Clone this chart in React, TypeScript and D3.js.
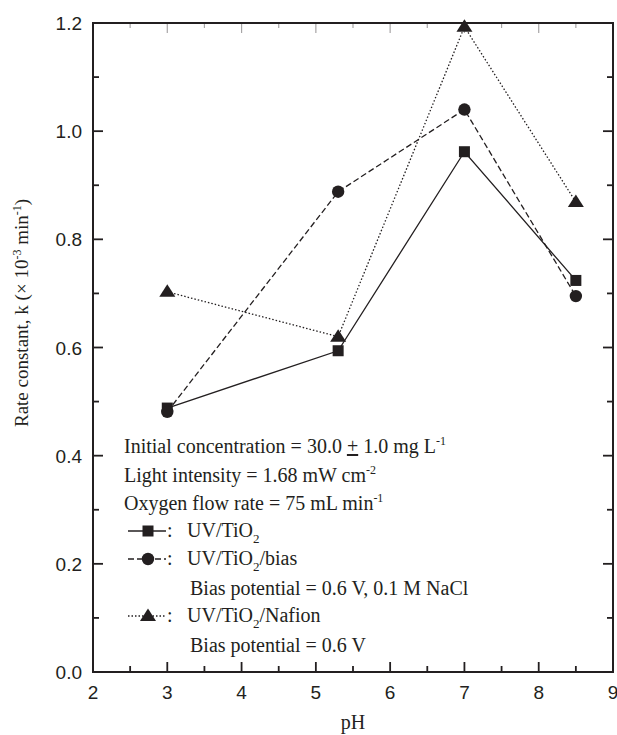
import React from "react";
import * as d3 from "d3";

const phValues = [3, 5.3, 7, 8.5];
const uvTiO2 = [0.488, 0.594, 0.962, 0.724];
const uvTiO2Bias = [0.481, 0.888, 1.04, 0.695];
const uvTiO2Nafion = [0.703, 0.62, 1.193, 0.869];
const xTicks = [2, 3, 4, 5, 6, 7, 8, 9];
const yTicks = [0.0, 0.2, 0.4, 0.6, 0.8, 1.0, 1.2];

const W = 617, H = 735;
const L = 93, R = 613, T = 23, B = 672;
const serif = "'Liberation Serif', 'Times New Roman', serif";
const sans = "'Liberation Sans', Arial, sans-serif";

export default function App() {
  const x = d3.scaleLinear().domain([2, 9]).range([L, R]);
  const y = d3.scaleLinear().domain([0, 1.2]).range([B, T]);
  const line = d3.line<[number, number]>().x(d => x(d[0])).y(d => y(d[1]));
  const xMinor = d3.range(2.5, 9, 1);
  const yMinor = d3.range(0.1, 1.2, 0.2);

  const series = [
    { vals: uvTiO2, dash: "none", shape: "square" },
    { vals: uvTiO2Bias, dash: "6,3", shape: "circle" },
    { vals: uvTiO2Nafion, dash: "1.5,2", shape: "triangle" },
  ];

  const marker = (shape: string, cx: number, cy: number, key: any) => {
    if (shape === "square") return <rect key={key} x={cx - 5.5} y={cy - 5.5} width={11} height={11} fill="#231f20" />;
    if (shape === "circle") return <circle key={key} cx={cx} cy={cy} r={6.2} fill="#231f20" />;
    return <path key={key} d={`M${cx},${cy - 7.5} L${cx + 8},${cy + 5} L${cx - 8},${cy + 5} Z`} fill="#231f20" />;
  };

  const ann = 20;
  const tx = 124;
  const legendY = [537, 565, 622];
  const sub = (t: string) => <tspan dy={6} fontSize={13}>{t}</tspan>;
  const legendTexts = [
    <>UV/TiO{sub("2")}</>,
    <>UV/TiO{sub("2")}<tspan dy={-6}>/bias</tspan></>,
    <>UV/TiO{sub("2")}<tspan dy={-6}>/Nafion</tspan></>,
  ];
  const sup = (t: string) => <tspan dy={-8} fontSize={12}>{t}</tspan>;

  return (
    <svg width={W} height={H} style={{ position: "absolute", left: 0, top: 0, background: "#fff" }}>
      <rect x={0} y={0} width={W} height={H} fill="#fff" />
      <rect x={L} y={T} width={R - L} height={B - T} fill="none" stroke="#231f20" strokeWidth={2} />
      {xTicks.map(t => (
        <g key={"xt" + t}>
          <line x1={x(t)} x2={x(t)} y1={B} y2={B - 10} stroke="#231f20" strokeWidth={1.8} />
          <line x1={x(t)} x2={x(t)} y1={T} y2={T + 10} stroke="#231f20" strokeWidth={1.2} strokeOpacity={0.4} />
          <text x={x(t)} y={699} textAnchor="middle" fontFamily={sans} fontSize={19} fill="#231f20">{t}</text>
        </g>
      ))}
      {xMinor.map(t => (
        <g key={"xm" + t}>
          <line x1={x(t)} x2={x(t)} y1={B} y2={B - 6} stroke="#231f20" strokeWidth={1.8} />
          <line x1={x(t)} x2={x(t)} y1={T} y2={T + 5} stroke="#231f20" strokeWidth={1.2} strokeOpacity={0.4} />
        </g>
      ))}
      {yTicks.map(t => (
        <g key={"yt" + t}>
          <line x1={L} x2={L + 10} y1={y(t)} y2={y(t)} stroke="#231f20" strokeWidth={1.8} />
          <line x1={R} x2={R - 10} y1={y(t)} y2={y(t)} stroke="#231f20" strokeWidth={1.8} />
          <text x={82} y={y(t) + 7} textAnchor="end" fontFamily={sans} fontSize={19} fill="#231f20">{t.toFixed(1)}</text>
        </g>
      ))}
      {yMinor.map(t => (
        <g key={"ym" + t}>
          <line x1={L} x2={L + 6} y1={y(t)} y2={y(t)} stroke="#231f20" strokeWidth={1.8} />
          <line x1={R} x2={R - 6} y1={y(t)} y2={y(t)} stroke="#231f20" strokeWidth={1.8} />
        </g>
      ))}
      {series.map((s, i) => (
        <g key={"s" + i}>
          <path d={line(phValues.map((p, j) => [p, s.vals[j]]) as [number, number][]) || ""} fill="none" stroke="#231f20" strokeWidth={1.3} strokeDasharray={s.dash} />
          {phValues.map((p, j) => marker(s.shape, x(p), y(s.vals[j]), j))}
        </g>
      ))}
      <g fontFamily={serif} fontSize={ann} fill="#231f20">
        <text x={tx} y={453}>Initial concentration = 30.0 <tspan textDecoration="underline">+</tspan> 1.0 mg L{sup("-1")}</text>
        <text x={tx} y={482}>Light intensity = 1.68 mW cm{sup("-2")}</text>
        <text x={tx} y={510}>Oxygen flow rate = 75 mL min{sup("-1")}</text>
        {series.map((s, i) => (
          <g key={"lg" + i}>
            <line x1={128} x2={166} y1={legendY[i] - 6} y2={legendY[i] - 6} stroke="#231f20" strokeWidth={1.3} strokeDasharray={s.dash} />
            {marker(s.shape, 148, legendY[i] - 6, "m")}
            <text x={167} y={legendY[i]}>:</text>
            <text x={187} y={legendY[i]}>{legendTexts[i]}</text>
          </g>
        ))}
        <text x={190} y={595}>Bias potential = 0.6 V, 0.1 M NaCl</text>
        <text x={190} y={652}>Bias potential = 0.6 V</text>
      </g>
      <text x={(L + R) / 2} y={729} textAnchor="middle" fontFamily={serif} fontSize={20} fill="#231f20">pH</text>
      <text transform={`translate(28,313) rotate(-90)`} textAnchor="middle" fontFamily={serif} fontSize={19} fill="#231f20">
        Rate constant, k (× 10<tspan dy={-7} fontSize={12}>-3</tspan><tspan dy={7}> min</tspan><tspan dy={-7} fontSize={12}>-1</tspan><tspan dy={7}>)</tspan>
      </text>
    </svg>
  );
}
